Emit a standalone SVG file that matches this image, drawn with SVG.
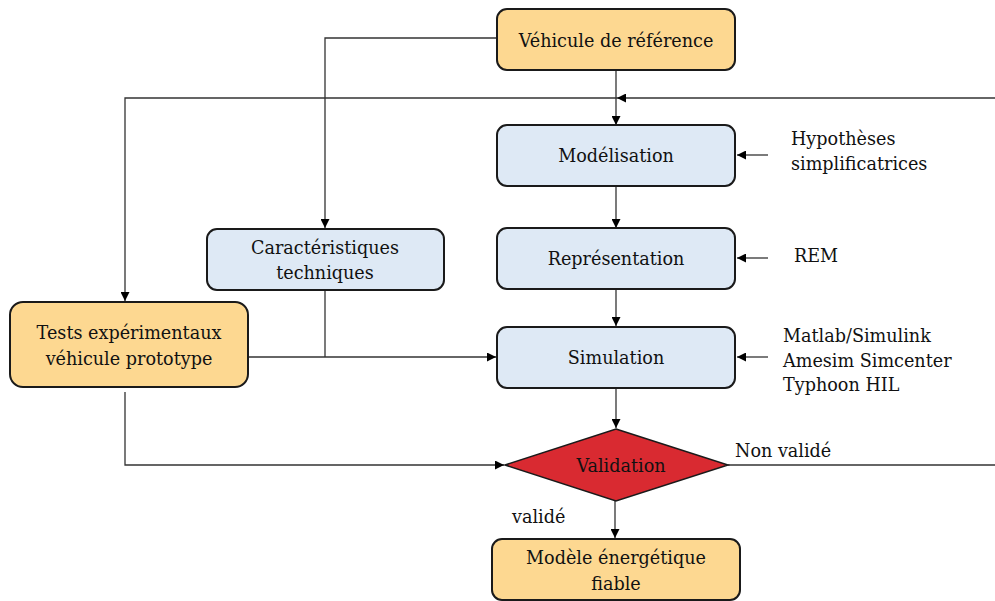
<svg xmlns="http://www.w3.org/2000/svg" width="995" height="601" viewBox="0 0 995 601">
<style>
  .orange { fill: #FDD891; stroke: #1a1a1a; stroke-width: 2; }
  .blue { fill: #DEE9F5; stroke: #1a1a1a; stroke-width: 2; }
  .red { fill: #D92A31; stroke: #1a1a1a; stroke-width: 1.5; }
  text { font-family: "DejaVu Serif", "Liberation Serif", serif; font-size: 17.6px; fill: #111; }
  .c { text-anchor: middle; }
  .conn { fill: none; stroke: #333; stroke-width: 1.3; }
</style>
<defs>
  <marker id="arr" viewBox="0 0 10 10" refX="10" refY="5" markerWidth="9" markerHeight="9" markerUnits="userSpaceOnUse" orient="auto">
    <path d="M0,0 L10,5 L0,10 z" fill="#000"/>
  </marker>
</defs>

<g id="connectors">
  <path class="conn" d="M616,70 V125" marker-end="url(#arr)"/>
  <path class="conn" d="M995,98 H617" marker-end="url(#arr)"/>
  <path class="conn" d="M617,98 H125 V301" marker-end="url(#arr)"/>
  <path class="conn" d="M497,38 H325 V228" marker-end="url(#arr)"/>
  <path class="conn" d="M616,186 V228" marker-end="url(#arr)"/>
  <path class="conn" d="M616,289 V326" marker-end="url(#arr)"/>
  <path class="conn" d="M325,290 V357"/>
  <path class="conn" d="M248,357 H496" marker-end="url(#arr)"/>
  <path class="conn" d="M125,392 V465 H504" marker-end="url(#arr)"/>
  <path class="conn" d="M616,388 V428" marker-end="url(#arr)"/>
  <path class="conn" d="M728,465 H995"/>
  <path class="conn" d="M615,501 V538" marker-end="url(#arr)"/>
  <path class="conn" d="M768,155 H737" marker-end="url(#arr)"/>
  <path class="conn" d="M768,258 H737" marker-end="url(#arr)"/>
  <path class="conn" d="M768,357 H737" marker-end="url(#arr)"/>
</g>

<g id="vehicule-reference">
  <rect class="orange" x="497" y="9" width="238" height="61" rx="10"/>
  <text class="c" x="616" y="47">Véhicule de référence</text>
</g>
<g id="modelisation">
  <rect class="blue" x="497" y="125" width="238" height="61" rx="10"/>
  <text class="c" x="616" y="162">Modélisation</text>
</g>
<g id="representation">
  <rect class="blue" x="497" y="228" width="238" height="61" rx="10"/>
  <text class="c" x="616" y="265">Représentation</text>
</g>
<g id="simulation">
  <rect class="blue" x="497" y="327" width="238" height="61" rx="10"/>
  <text class="c" x="616" y="364">Simulation</text>
</g>
<g id="caracteristiques">
  <rect class="blue" x="207" y="229" width="237" height="61" rx="10"/>
  <text class="c" x="325" y="254">Caractéristiques</text>
  <text class="c" x="325" y="279">techniques</text>
</g>
<g id="tests">
  <rect class="orange" x="10" y="302" width="238" height="85" rx="13"/>
  <text class="c" x="129" y="339">Tests expérimentaux</text>
  <text class="c" x="129" y="365">véhicule prototype</text>
</g>
<g id="validation">
  <polygon class="red" points="616,429 728,465 616,501 505,465"/>
  <text class="c" x="621" y="472">Validation</text>
</g>
<g id="modele">
  <rect class="orange" x="492" y="539" width="248" height="61" rx="10"/>
  <text class="c" x="616" y="564">Modèle énergétique</text>
  <text class="c" x="616" y="590">fiable</text>
</g>
<g id="labels">
  <text x="791" y="145">Hypothèses</text>
  <text x="791" y="170">simplificatrices</text>
  <text x="794" y="262">REM</text>
  <text x="783" y="342">Matlab/Simulink</text>
  <text x="783" y="367">Amesim Simcenter</text>
  <text x="783" y="391">Typhoon HIL</text>
  <text x="735" y="457">Non validé</text>
  <text x="512" y="523">validé</text>
</g>
</svg>
